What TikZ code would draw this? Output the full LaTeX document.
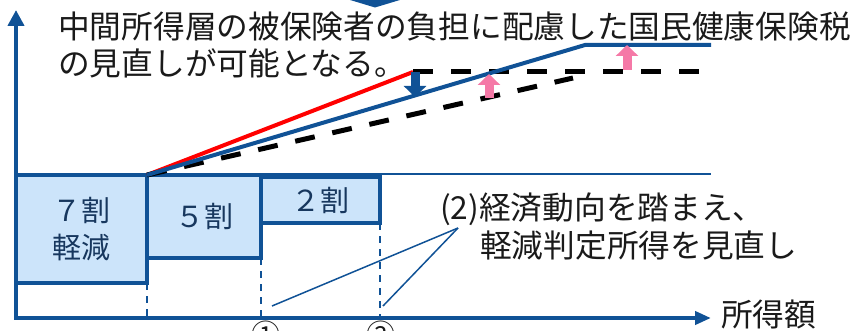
\documentclass[tikz,border=0pt]{standalone}
\usepackage{fontspec}
\setmainfont{Noto Sans CJK JP}
\usetikzlibrary{arrows.meta}
\definecolor{axblue}{RGB}{16,82,150}
\definecolor{boxfill}{RGB}{204,228,250}
\definecolor{boxtext}{RGB}{23,55,94}
\definecolor{textblack}{RGB}{26,26,26}
\definecolor{pinkc}{RGB}{245,121,167}
\definecolor{redc}{RGB}{255,0,0}
\begin{document}
\begin{tikzpicture}[x=1pt,y=-1pt,
  axisline/.style={draw=axblue, line width=4pt},
  boxnode/.style={draw=axblue, line width=4pt, fill=boxfill, inner sep=0pt, outer sep=0pt,
    text=boxtext, font=\fontsize{29}{37}\selectfont, align=center},
  guide/.style={draw=axblue, line width=1.5pt, dash pattern=on 7pt off 6pt},
  leader/.style={draw=axblue, line width=1.5pt},
  thinline/.style={draw=axblue, line width=1.5pt},
  oldline/.style={draw=black, line width=5pt, dash pattern=on 20pt off 18pt},
  newline/.style={draw=axblue, line width=4pt, line join=miter},
  redline/.style={draw=redc, line width=4pt},
  blockarrow/.style={line width=9pt, -{Triangle[width=22pt,length=11pt]}},
  maintext/.style={font=\fontsize{31.7}{38}\selectfont, text=textblack, inner sep=0pt, anchor=base west},
  circnum/.style={font=\fontsize{29}{29}\selectfont, text=textblack, inner sep=0pt}
]
\useasboundingbox (0,0) rectangle (856,331);
\clip (0,0) rectangle (856,331);

% top partial arrow
\fill[axblue] (317,-10) -- (433,-10) -- (375,7.5) -- cycle;

% texts
\node[maintext] (t1) at (58,39) {中間所得層の被保険者の負担に配慮した国民健康保険税};
\node[maintext] (t2) at (58,76) {の見直しが可能となる。};

% thin reference line
\coordinate (thinL) at (16,174);
\coordinate (thinR) at (711,174);
\draw[thinline] (thinL) -- (thinR);

% boxes
\node[boxnode, minimum width=131pt, minimum height=108pt] (b7) at (81.5,229) {７割\\軽減};
\node[boxnode, minimum width=114pt, minimum height=83pt] (b5) at (204,216.5) {５割};
\node[boxnode, minimum width=119pt, minimum height=46pt] (b2) at (320.5,200) {２割};

% axes
\coordinate (origin) at (16,318);
\coordinate (ytip) at (16,10);
\coordinate (xtip) at (711,318);
\draw[axisline, -{Triangle[width=16pt,length=16pt]}] (origin) -- (ytip);
\draw[axisline, -{Triangle[width=13pt,length=16pt]}] (14,318) -- (xtip);
\node[maintext] (xlab) at (721,326) {所得額};

% guides
\draw[guide] (b7.south east) -- (b7.south east |- origin);
\draw[guide] (b5.south east) -- (b5.south east |- origin);
\draw[guide] (b2.south east) -- (b2.south east |- origin);

% circled numbers
\node[circnum] (c1) at (266,334) {①};
\node[circnum] (c2) at (381,334) {②};

% graph lines
\coordinate (start) at (147,175);
\coordinate (redend) at (413,72);
\coordinate (bend) at (585,45);
\coordinate (newend) at (711,45);
\coordinate (oldbend) at (573,78);
\coordinate (oldend) at (703,72);
\draw[redline] (start) -- (redend);
\draw[oldline] (start) -- (oldbend);
\draw[oldline] (redend) -- (oldend);
\draw[newline] (start) -- (bend) -- (newend);

% block arrows
\draw[blockarrow, axblue] (415,72) -- (415,97);
\draw[blockarrow, pinkc] (489,98) -- (489,74);
\draw[blockarrow, pinkc] (627,70) -- (627,45);

% note
\node[maintext] (n1) at (440,219) {(2)経済動向を踏まえ、};
\node[maintext] (n2) at (480,257) {軽減判定所得を見直し};
\coordinate (meet) at (458,228);
\coordinate (p1) at (272,306);
\coordinate (p2) at (383,306);
\draw[leader] (meet) -- (p1);
\draw[leader] (meet) -- (p2);
\end{tikzpicture}
\end{document}
